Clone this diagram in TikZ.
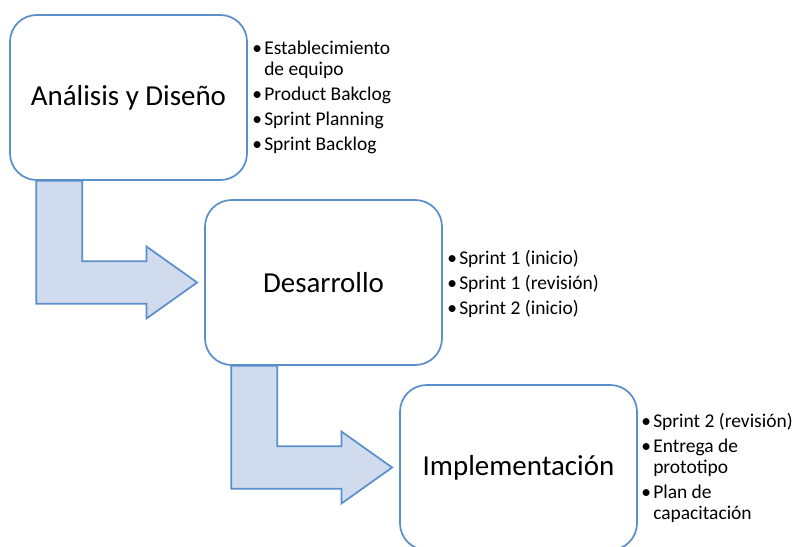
\documentclass[tikz,border=0pt]{standalone}
\usepackage{fontspec}
\setmainfont{Carlito}
\usepackage{tikz}
\usetikzlibrary{calc,positioning}
\definecolor{bpline}{HTML}{5B8FCA}
\definecolor{bpfill}{HTML}{D0DBEE}

% bent arrow from the bottom of one box to the left side of the next
\newcommand{\bentarrow}[2]{%
  \draw[bent] let \p1=($(#1.south west)+(27,0)$), \p2=($(#2.west)+(-7,0)$) in
    (\x1,\y1) -- (\x1,\y2-16pt) -- (\x2-38pt,\y2-16pt) -- (\x2-38pt,\y2-27pt)
    -- (\x2,\y2) -- (\x2-38pt,\y2+27pt) -- (\x2-38pt,\y2+16pt)
    -- (\x1+34.5pt,\y2+16pt) -- (\x1+34.5pt,\y1) -- cycle;}
\newcommand{\bul}{\makebox[9pt][l]{•}}
\newcommand{\ind}{\hspace*{9pt}}

\begin{document}
\begin{tikzpicture}[x=0.75pt, y=-0.75pt,
    stage/.style={draw=bpline, line width=1.3pt, fill=white, rounded corners=20pt,
      minimum width=177.75pt, minimum height=123.75pt, inner sep=0pt,
      font=\fontsize{21.7}{26}\selectfont},
    bent/.style={draw=bpline, line width=1.3pt, fill=bpfill, line join=miter},
    items/.style={anchor=north west, inner sep=0pt, align=left,
      font=\fontsize{14.6}{15.75}\selectfont}
]
    \useasboundingbox (0,0) rectangle (795,546);

    % Stages
    \node[stage] (analisis) at (128.5,97.5) {Análisis y Diseño};
    \node[stage] (desarrollo) at (323.5,282.5) {Desarrollo};
    \node[stage] (implem) at (518.5,467.5) {Implementación};

    % Arrows between stages
    \bentarrow{analisis}{desarrollo}
    \bentarrow{desarrollo}{implem}

    % Task lists
    \node[items] (tareas1) at (252,41) {\bul Establecimiento\\\ind de equipo\\[3pt]
      \bul Product Bakclog\\[3pt]\bul Sprint Planning\\[3pt]\bul Sprint Backlog};
    \node[items] (tareas2) at (447,250) {\bul Sprint 1 (inicio)\\[3pt]
      \bul Sprint 1 (revisión)\\[3pt]\bul Sprint 2 (inicio)};
    \node[items] (tareas3) at (641,413) {\bul Sprint 2 (revisión)\\[3pt]
      \bul Entrega de\\\ind prototipo\\[3pt]\bul Plan de\\\ind capacitación};
\end{tikzpicture}
\end{document}
